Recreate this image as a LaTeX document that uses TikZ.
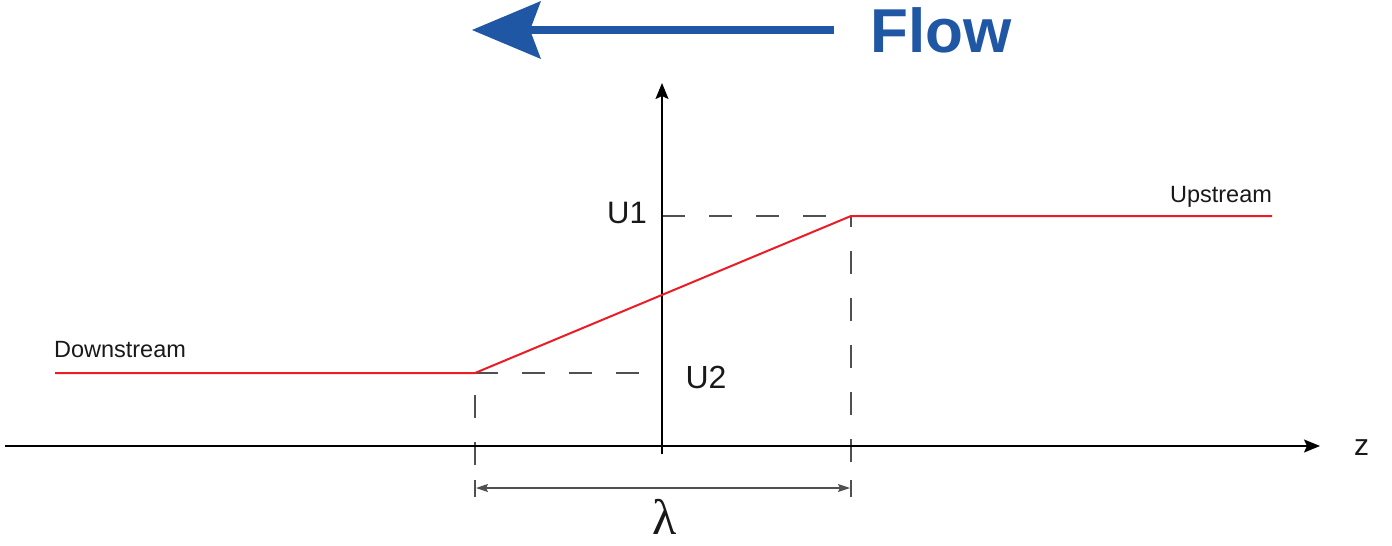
\documentclass[tikz,border=0pt]{standalone}
\usepackage{fontspec}
\setmainfont{Liberation Sans}
\newfontfamily\greekserif{Liberation Serif}
\usetikzlibrary{arrows.meta}
\definecolor{flowblue}{RGB}{31,87,165}
\definecolor{curvered}{RGB}{237,28,36}
\definecolor{dashgray}{RGB}{80,80,80}
\begin{document}
\begin{tikzpicture}[x=1pt,y=-1pt,
  axis/.style={line width=1.8pt, -{Stealth[length=16pt,width=13pt,inset=3pt]}},
  guide/.style={dashgray, line width=1.2pt, dash pattern=on 23pt off 24pt},
  tickline/.style={dashgray, line width=1.2pt},
  dimline/.style={dashgray, line width=1.2pt, {Stealth[length=12pt,width=8pt,inset=2pt]}-{Stealth[length=12pt,width=8pt,inset=2pt]}},
  profile/.style={curvered, line width=2pt},
  lbl/.style={inner sep=0pt, anchor=base, text=black!90, font=\fontsize{23.5}{28}\selectfont},
  biglbl/.style={inner sep=0pt, anchor=base, text=black!90},
]
\useasboundingbox (0,0) rectangle (1392,546);

% coordinates
\coordinate (zs) at (5,446);
\coordinate (ze) at (1320,446);
\coordinate (ys) at (662,454);
\coordinate (ye) at (662,83);
\coordinate (ds) at (55,373);
\coordinate (p2) at (475,373);
\coordinate (p1) at (851,216);
\coordinate (ue) at (1272,216);
\coordinate (a2) at (662,373);
\coordinate (a1) at (662,216);
\coordinate (b2) at (475,465);
\coordinate (b1) at (851,462);
\coordinate (t2a) at (475,480);
\coordinate (t2b) at (475,497);
\coordinate (t1a) at (851,480);
\coordinate (t1b) at (851,497);
\coordinate (d2) at (476,488);
\coordinate (d1) at (850,488);

% dashed guides
\draw[guide] (a1) -- (p1);
\draw[guide] (p2) -- (a2);
\draw[guide] (b2) -- (p2);
\draw[guide] (b1) -- (p1);

% dimension
\draw[tickline] (t2a) -- (t2b);
\draw[tickline] (t1a) -- (t1b);
\draw[dimline] (d2) -- (d1);

% axes
\draw[axis] (zs) -- (ze);
\draw[axis] (ys) -- (ye);

% profile
\draw[profile] (ds) -- (p2) -- (p1) -- (ue);

% labels
\node[lbl] (down) at (120,357) {Downstream};
\node[lbl] (up) at (1221,202) {Upstream};
\node[biglbl, font=\fontsize{31}{36}\selectfont] (u1) at (627,223) {U1};
\node[biglbl, font=\fontsize{32}{38}\selectfont] (u2) at (706,388) {U2};
\node[biglbl, font=\fontsize{30}{36}\selectfont] (z) at (1361.5,455) {z};
\node[biglbl, font=\fontsize{50}{56}\selectfont\greekserif] (lam) at (664.5,534) {λ};

% flow arrow
\coordinate (ft) at (472,30);
\coordinate (fc1) at (541,1);
\coordinate (fn) at (530,30);
\coordinate (fc2) at (541,59);
\coordinate (fe) at (834,30);
\fill[flowblue] (ft) -- (fc1) -- (fn) -- (fc2) -- cycle;
\draw[flowblue, line width=8pt] (fn) -- (fe);
\node[inner sep=0pt, anchor=base, text=flowblue, font=\fontsize{62}{72}\selectfont\bfseries] (flow) at (941,52) {Flow};
\end{tikzpicture}
\end{document}
